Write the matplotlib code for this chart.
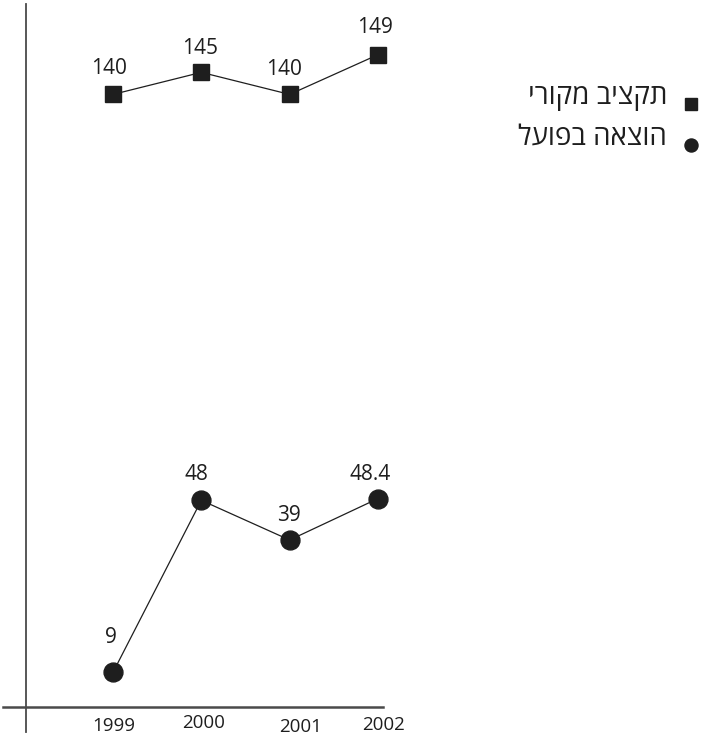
import matplotlib
matplotlib.use("Agg")
import matplotlib.pyplot as plt
from matplotlib.lines import Line2D

plt.rcParams['font.family'] = ['Open Sans', 'DejaVu Sans']

# Data
years = [1999, 2000, 2001, 2002]
budget = [140, 145, 140, 149]          # תקציב מקורי
spent = [9, 48, 39, 48.4]              # הוצאה בפועל
budget_labels = ["140", "145", "140", "149"]
spent_labels = ["9", "48", "39", "48.4"]
year_labels = ["1999", "2000", "2001", "2002"]
series_names = ["תקציב מקורי", "הוצאה בפועל"]

# Label placement (pixel offsets from each point)
budget_off = [(-4, 26), (-1, 24), (-6, 25), (-3, 27)]
spent_off = [(-2, 35), (-5, 26), (-1, 25), (-8, 24)]
year_off = [(1, -19), (2, -16), (11, -20), (6, -18)]

W, H = 702, 735
fig = plt.figure(figsize=(W / 100, H / 100), dpi=100)
ax = fig.add_axes([0, 0, 1, 1])
ax.set_xlim(1997.721, 2005.668)
ax.set_ylim(-5.19, 161.4)
ax.axis('off')

ink = '#1e1e1e'

# Axis lines (crossing at the lower-left corner)
ax.add_line(Line2D([26 / W, 26 / W], [(H - 732) / H, (H - 4) / H],
                   transform=ax.transAxes, color='#4a4a4a', lw=1.3, clip_on=False))
ax.add_line(Line2D([3 / W, 383 / W], [(H - 707) / H, (H - 707) / H],
                   transform=ax.transAxes, color='#4a4a4a', lw=1.8, clip_on=False))

# Series
ax.plot(years, budget, color=ink, lw=0.9, marker='s', ms=12.2,
        mfc=ink, mec=ink, zorder=3)
ax.plot(years, spent, color=ink, lw=0.9, marker='o', ms=13.6,
        mfc=ink, mec=ink, zorder=3)

for x, v, lab, off in zip(years, budget, budget_labels, budget_off):
    ax.annotate(lab, (x, v), xytext=off, textcoords='offset pixels',
                ha='center', va='center', fontsize=15, color=ink)
for x, v, lab, off in zip(years, spent, spent_labels, spent_off):
    ax.annotate(lab, (x, v), xytext=off, textcoords='offset pixels',
                ha='center', va='center', fontsize=15, color=ink)

# Year labels under the horizontal axis
for x, lab, off in zip(years, year_labels, year_off):
    ax.annotate(lab, (x, (H - 707) / H), xycoords=('data', 'axes fraction'),
                xytext=off, textcoords='offset pixels',
                ha='center', va='center', fontsize=13.5, color=ink)

# Legend (right-to-left: marker on the right of the text)
leg_markers = ['s', 'o']
leg_sizes = [8.6, 9.4]
leg_text_y = [97, 138]
leg_mark_y = [104, 145]
for name, mk, ms, ty, my in zip(series_names, leg_markers, leg_sizes,
                                leg_text_y, leg_mark_y):
    ax.plot([691 / W], [(H - my) / H], transform=ax.transAxes, marker=mk,
            ms=ms, color=ink, ls='none', clip_on=False)
    ax.text(667 / W, (H - ty) / H, name[::-1], transform=ax.transAxes,
            ha='right', va='center', fontsize=20, color=ink)

fig.savefig('out.png', dpi=100)
